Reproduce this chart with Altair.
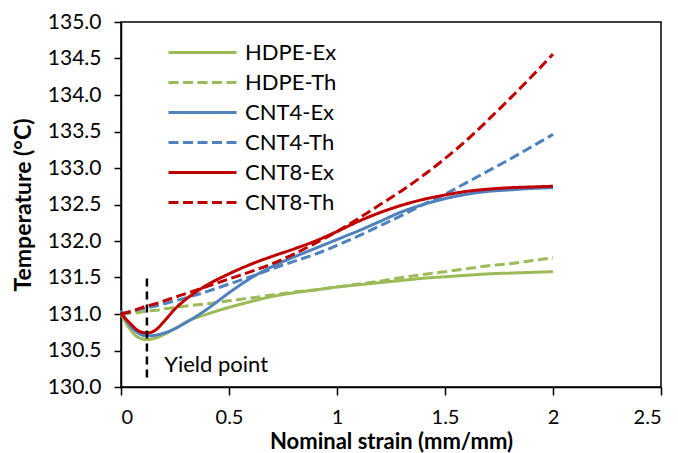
import altair as alt
import pandas as pd

# ---- data ----
strain = [0, 0.04, 0.08, 0.12, 0.16, 0.2, 0.25, 0.3, 0.4, 0.5, 0.6, 0.7, 0.8, 0.9,
          1.0, 1.1, 1.2, 1.3, 1.4, 1.5, 1.6, 1.7, 1.8, 1.9, 2.0]
hdpe_ex = [131.0, 130.80, 130.68, 130.65, 130.67, 130.72, 130.80, 130.89, 131.00, 131.09,
           131.17, 131.24, 131.29, 131.33, 131.37, 131.40, 131.43, 131.46, 131.49, 131.51,
           131.53, 131.55, 131.56, 131.57, 131.58]
hdpe_th = [131.0, 131.01, 131.02, 131.04, 131.05, 131.07, 131.09, 131.11, 131.14, 131.18,
           131.22, 131.26, 131.30, 131.33, 131.37, 131.41, 131.45, 131.50, 131.54, 131.58,
           131.62, 131.66, 131.69, 131.73, 131.77]
cnt4_ex = [131.05, 130.85, 130.74, 130.70, 130.71, 130.74, 130.80, 130.88, 131.07, 131.29,
           131.49, 131.65, 131.78, 131.90, 132.02, 132.14, 132.27, 132.40, 132.50, 132.58,
           132.64, 132.68, 132.70, 132.72, 132.73]
cnt4_th = [131.0, 131.03, 131.06, 131.09, 131.11, 131.14, 131.18, 131.22, 131.31, 131.41,
           131.51, 131.62, 131.72, 131.82, 131.94, 132.07, 132.21, 132.35, 132.50, 132.64,
           132.80, 132.96, 133.12, 133.29, 133.46]
cnt8_ex = [131.0, 130.88, 130.77, 130.74, 130.78, 130.90, 131.07, 131.20, 131.40, 131.55,
           131.68, 131.79, 131.89, 132.00, 132.13, 132.27, 132.39, 132.49, 132.57, 132.63,
           132.68, 132.71, 132.73, 132.74, 132.75]
cnt8_th = [131.0, 131.03, 131.07, 131.11, 131.14, 131.18, 131.23, 131.28, 131.38, 131.48,
           131.58, 131.69, 131.82, 131.97, 132.13, 132.31, 132.50, 132.69, 132.90, 133.13,
           133.38, 133.66, 133.95, 134.25, 134.56]

series_names = ["HDPE-Ex", "HDPE-Th", "CNT4-Ex", "CNT4-Th", "CNT8-Ex", "CNT8-Th"]
series_values = [hdpe_ex, hdpe_th, cnt4_ex, cnt4_th, cnt8_ex, cnt8_th]
series_colors = ["#9BBB59", "#9BBB59", "#4F81BD", "#4F81BD", "#C00000", "#C00000"]
series_dash = [[1, 0], [10, 4.5], [1, 0], [10, 4.5], [1, 0], [10, 4.5]]

yield_strain = [0.12]
yield_low = [130.13]
yield_high = [131.55]
yield_label = ["Yield point"]
yield_label_x = [0.2]
yield_label_y = [130.2]

x_ticks = [0, 0.5, 1, 1.5, 2, 2.5]
y_ticks = [130.0, 130.5, 131.0, 131.5, 132.0, 132.5, 133.0, 133.5, 134.0, 134.5, 135.0]

FONT = "Lato"

rows = []
for name, vals in zip(series_names, series_values):
    for i, (s, t) in enumerate(zip(strain, vals)):
        rows.append({"series": name, "strain": s, "temp": t, "order": i})
df = pd.DataFrame(rows)

legend = alt.Legend(
    title=None, orient="none", legendX=46, legendY=16,
    symbolType="stroke", symbolSize=4624, symbolStrokeWidth=3,
    clipHeight=29.2, rowPadding=0, padding=0,
    labelFontSize=22, labelFont=FONT, labelColor="black", labelOffset=7,
    direction="vertical",
)

xscale = alt.Scale(domain=[0, 2.5], nice=False, zero=False)
yscale = alt.Scale(domain=[130, 135], nice=False, zero=False)

xaxis = alt.Axis(title="Nominal strain (mm/mm)", values=x_ticks, format="~g",
                 tickSize=8, labelPadding=12, titlePadding=4, grid=False,
                 labelFont=FONT, labelFontSize=20, labelColor="black",
                 titleFont=FONT, titleFontSize=22, titleFontWeight="bold", titleColor="black",
                 domainColor="black", domainWidth=1.5, tickColor="black", tickWidth=1.5,
                 labelOverlap=False)
yaxis = alt.Axis(title="Temperature (\u00b0C)", values=y_ticks, format=".1f",
                 tickSize=7, labelPadding=13, titlePadding=12, grid=False,
                 labelFont=FONT, labelFontSize=21, labelColor="black",
                 titleFont=FONT, titleFontSize=23, titleFontWeight="bold", titleColor="black",
                 domainColor="black", domainWidth=1.5, tickColor="black", tickWidth=1.5,
                 labelOverlap=False)

lines = alt.Chart(df).mark_line(strokeWidth=3, interpolate="monotone").encode(
    x=alt.X("strain:Q", scale=xscale, axis=xaxis),
    y=alt.Y("temp:Q", scale=yscale, axis=yaxis),
    color=alt.Color("series:N", scale=alt.Scale(domain=series_names, range=series_colors),
                    legend=legend),
    strokeDash=alt.StrokeDash("series:N", scale=alt.Scale(domain=series_names, range=series_dash),
                              legend=legend),
    order="order:Q",
)

ydf = pd.DataFrame({"strain": yield_strain, "temp": yield_low, "temp_hi": yield_high})
rule = alt.Chart(ydf).mark_rule(color="black", strokeWidth=2.5, strokeDash=[8, 5]).encode(
    x=alt.X("strain:Q", scale=xscale, axis=xaxis),
    y=alt.Y("temp:Q", scale=yscale, axis=yaxis),
    y2="temp_hi:Q",
)

tdf = pd.DataFrame({"strain": yield_label_x, "temp": yield_label_y, "t": yield_label})
text = alt.Chart(tdf).mark_text(align="left", baseline="alphabetic", fontSize=22,
                                font=FONT, color="black").encode(
    x=alt.X("strain:Q", scale=xscale, axis=xaxis),
    y=alt.Y("temp:Q", scale=yscale, axis=yaxis),
    text="t:N",
)

chart = alt.layer(lines, rule, text).properties(
    width=540, height=365,
    autosize=alt.AutoSizeParams(type="none"),
    padding={"left": 121, "top": 22, "right": 17, "bottom": 66},
    background="white",
).configure_view(
    stroke="black", strokeWidth=1.5
)

chart.save("out.html", embed_options={"renderer": "svg", "actions": False})
